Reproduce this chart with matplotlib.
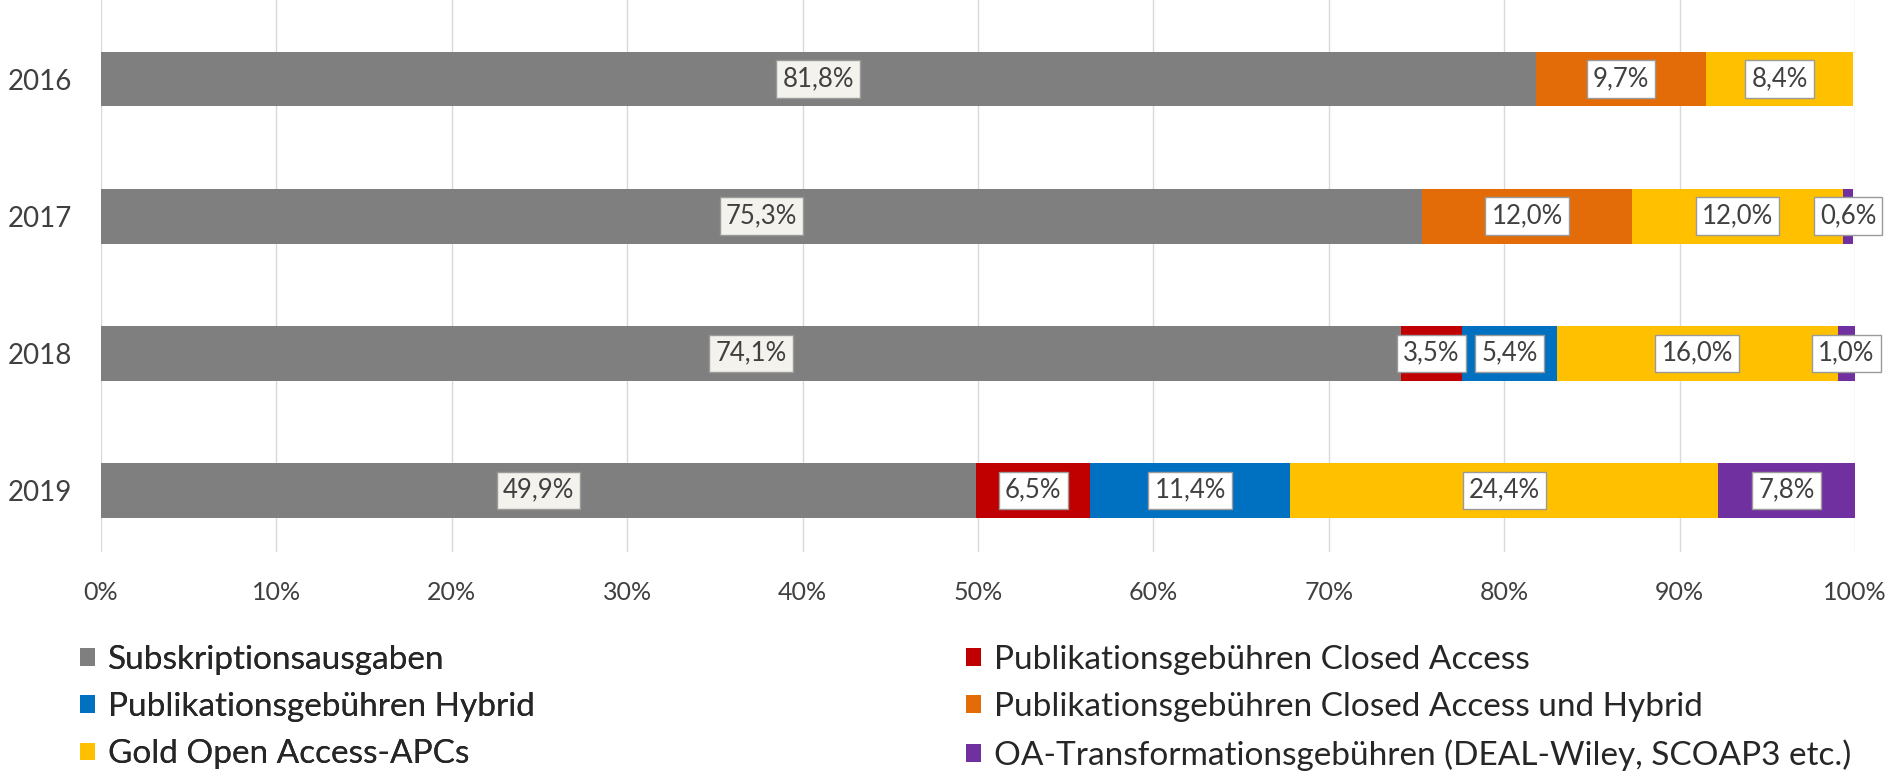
import matplotlib
matplotlib.use("Agg")
import matplotlib.pyplot as plt
import numpy as np

years = ["2016", "2017", "2018", "2019"]
series_names = [
    "Subskriptionsausgaben",
    "Publikationsgebühren Closed Access",
    "Publikationsgebühren Hybrid",
    "Publikationsgebühren Closed Access und Hybrid",
    "Gold Open Access-APCs",
    "OA-Transformationsgebühren (DEAL-Wiley, SCOAP3 etc.)",
]
subskription = [81.8, 75.3, 74.1, 49.9]
closed_access = [0.0, 0.0, 3.5, 6.5]
hybrid = [0.0, 0.0, 5.4, 11.4]
closed_hybrid = [9.7, 12.0, 0.0, 0.0]
gold_oa = [8.4, 12.0, 16.0, 24.4]
oa_transform = [0.0, 0.6, 1.0, 7.8]
colors = ["#7f7f7f", "#c00000", "#0070c0", "#e36c09", "#ffc000", "#7030a0"]
label_fills = ["#f4f2ec", "white", "white", "white", "white", "white"]
xticks = [0, 10, 20, 30, 40, 50, 60, 70, 80, 90, 100]

plt.rcParams['font.family'] = ['Lato', 'DejaVu Sans']

fig = plt.figure(figsize=(18.91, 7.73), dpi=100)
ax = fig.add_axes([0.0534, 0.286, 0.9276, 0.714])

data = [subskription, closed_access, hybrid, closed_hybrid, gold_oa, oa_transform]
y = np.arange(len(years))
left = np.zeros(len(years))
handles = []
for vals, name, col, fill in zip(data, series_names, colors, label_fills):
    vals = np.array(vals)
    bars = ax.barh(y, vals, left=left, height=0.40, color=col, label=name, zorder=2)
    handles.append(bars)
    for i, v in enumerate(vals):
        if v > 0:
            ax.text(left[i] + v / 2, y[i], f"{v:.1f}%".replace(".", ","),
                    ha="center", va="center", fontsize=18.5, color="#404040", zorder=4,
                    clip_on=False,
                    bbox=dict(boxstyle="square,pad=0.24", fc=fill, ec="#9a9a9a", lw=1))
    left = left + vals

ax.set_xlim(0, 100)
ax.set_ylim(3.45, -0.577)
ax.set_yticks(y)
ax.set_yticklabels(years, fontsize=20, color="#404040")
ax.set_xticks(xticks)
ax.set_xticklabels([f"{t}%" for t in xticks], fontsize=18, color="#404040")
ax.tick_params(axis="both", length=0)
ax.tick_params(axis="x", pad=21)
ax.tick_params(axis="y", pad=21)
ax.grid(axis="x", color="#d9d9d9", lw=1, zorder=0)
ax.set_axisbelow(True)
for s in ax.spines.values():
    s.set_visible(False)

leg_kw = dict(frameon=False, fontsize=24, handlelength=0.45, handleheight=0.45,
              handletextpad=0.38, labelspacing=0.52, borderpad=0, borderaxespad=0,
              labelcolor="#262626")
leg1 = fig.legend([handles[0], handles[2], handles[4]],
                  [series_names[0], series_names[2], series_names[4]],
                  loc="upper left", bbox_to_anchor=(0.0423, 0.166), **leg_kw)
fig.add_artist(leg1)
leg2 = fig.legend([handles[1], handles[3], handles[5]],
                  [series_names[1], series_names[3], series_names[5]],
                  loc="upper left", bbox_to_anchor=(0.511, 0.166), **leg_kw)

fig.savefig("out.png", dpi=100)
